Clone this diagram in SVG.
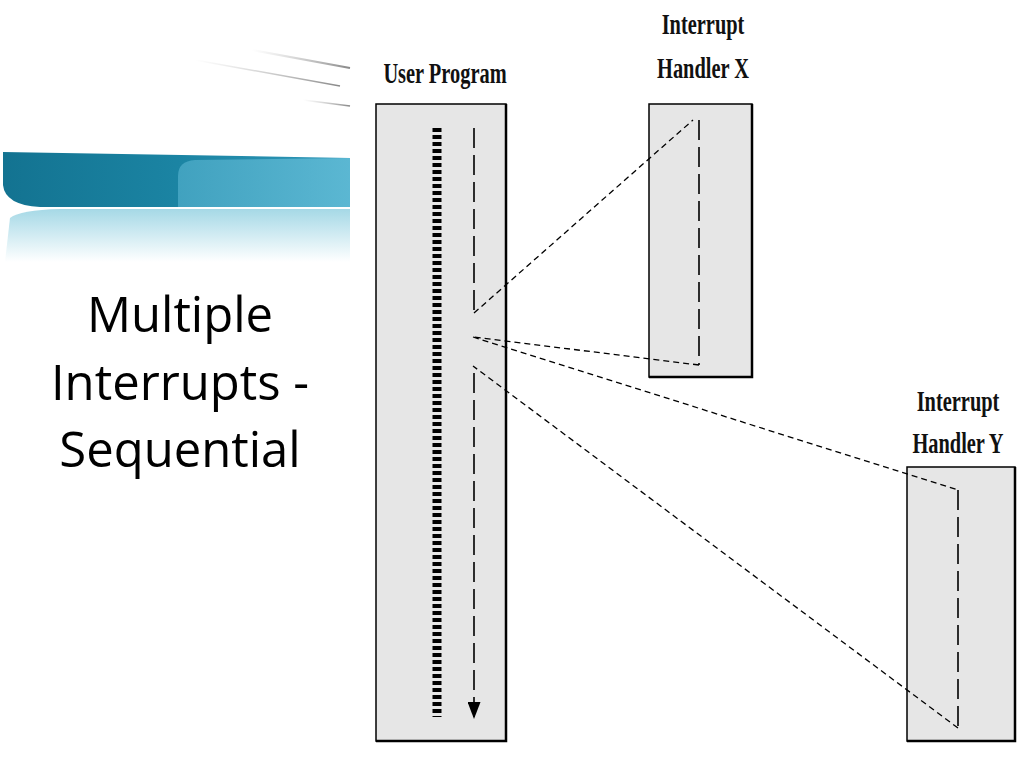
<svg xmlns="http://www.w3.org/2000/svg" width="1024" height="768" viewBox="0 0 1024 768">
<defs>
<style>
.box{fill:#e6e6e6;stroke:#000;stroke-width:1.5}
.lbl{font-family:"Liberation Serif",serif;font-weight:bold;font-size:30px;fill:#111;text-anchor:middle}
.title{font-family:"Open Sans","Liberation Sans",sans-serif;font-size:49px;fill:#000;text-anchor:middle}
.dl{fill:none;stroke:#000;stroke-width:1.3;stroke-dasharray:6 4}
.dv{fill:none;stroke:#000;stroke-width:1.6;stroke-dasharray:20 7}
</style>
<linearGradient id="band" x1="0" y1="0" x2="1" y2="0">
<stop offset="0" stop-color="#137391"/>
<stop offset="0.5" stop-color="#1b84a3"/>
<stop offset="1" stop-color="#2f97b8"/>
</linearGradient>
<linearGradient id="band2" x1="0" y1="0" x2="1" y2="0">
<stop offset="0" stop-color="#4aa9c6"/>
<stop offset="1" stop-color="#66bfd9"/>
</linearGradient>
<linearGradient id="refl" x1="0" y1="0" x2="0" y2="1">
<stop offset="0" stop-color="#8fcfe0"/>
<stop offset="1" stop-color="#ffffff"/>
</linearGradient>
<linearGradient id="gl" x1="0" y1="0" x2="1" y2="0">
<stop offset="0" stop-color="#bbb" stop-opacity="0"/>
<stop offset="1" stop-color="#888"/>
</linearGradient>
<marker id="ah" markerWidth="17" markerHeight="13" refX="17" refY="6.5" orient="auto" markerUnits="userSpaceOnUse">
<path d="M0,0 L17,6.5 L0,13 Z" fill="#000"/>
</marker>
</defs>
<rect width="1024" height="768" fill="#fff"/>
<g id="decor">
<path d="M3,152 L350,158 L350,207 L40,207 Q5,205 3,185 Z" fill="url(#band)"/>
<path d="M195,160 L350,158 L350,207 L178,207 L178,176 Q178,161 195,160 Z" fill="url(#band2)" opacity="0.8"/>
<path d="M10,218 Q20,210 60,209 L350,209 L350,262 L5,262 Z" fill="url(#refl)" opacity="0.8"/>
<line x1="252" y1="50" x2="350" y2="68" stroke="url(#gl)" stroke-width="2"/>
<line x1="195" y1="60" x2="340" y2="86" stroke="url(#gl)" stroke-width="1.5"/>
<line x1="303" y1="100" x2="350" y2="106" stroke="url(#gl)" stroke-width="1.5"/>
</g>
<g id="title">
<text class="title" x="180" y="332">Multiple</text>
<text class="title" x="180" y="400">Interrupts -</text>
<text class="title" x="180" y="467">Sequential</text>
</g>
<g id="user-program">
<rect class="box" x="376" y="104" width="130" height="637"/>
<path d="M506,104 V741 H376" fill="none" stroke="#000" stroke-width="2.5"/>
<text class="lbl" transform="translate(445,83) scale(0.68,1)">User Program</text>
<line x1="437" y1="128" x2="437" y2="717" stroke="#000" stroke-width="9" stroke-dasharray="4 3"/>
</g>
<g id="handler-x">
<rect class="box" x="649" y="104" width="103" height="273"/>
<path d="M752,104 V377 H649" fill="none" stroke="#000" stroke-width="2.5"/>
<text class="lbl" transform="translate(703,34) scale(0.68,1)">Interrupt</text>
<text class="lbl" transform="translate(703,78) scale(0.68,1)">Handler X</text>
</g>
<g id="handler-y">
<rect class="box" x="907" y="467" width="108" height="274"/>
<path d="M1015,467 V741 H907" fill="none" stroke="#000" stroke-width="2.5"/>
<text class="lbl" transform="translate(958,411) scale(0.68,1)">Interrupt</text>
<text class="lbl" transform="translate(958,453) scale(0.68,1)">Handler Y</text>
</g>
<g id="connectors">
<line class="dv" x1="474" y1="128" x2="474" y2="317"/>
<line class="dl" x1="474" y1="313" x2="693" y2="120"/>
<line class="dv" x1="699" y1="120" x2="699" y2="365" stroke-width="1.3"/>
<line class="dl" x1="699" y1="365" x2="473" y2="337"/>
<line class="dl" x1="473" y1="337" x2="958" y2="490"/>
<line class="dv" x1="958" y1="490" x2="958" y2="728" stroke-width="1.3"/>
<line class="dl" x1="958" y1="728" x2="473" y2="366"/>
<line class="dv" x1="474" y1="373" x2="474" y2="719" marker-end="url(#ah)"/>
</g>
</svg>
